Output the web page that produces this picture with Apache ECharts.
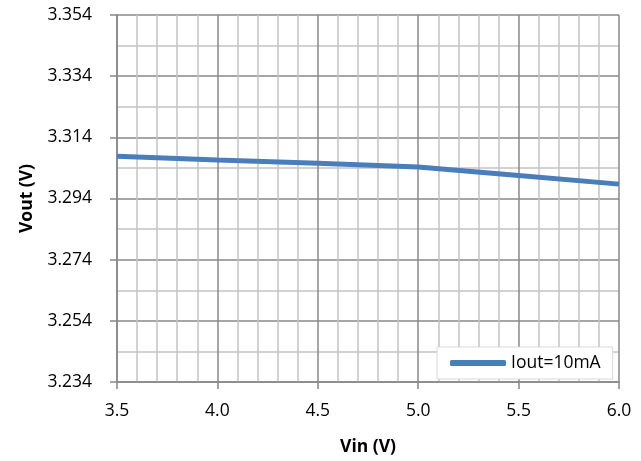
<!DOCTYPE html>
<html lang="en">
<head>
    <meta charset="UTF-8">
    <title>Vout vs Vin</title>
    <script src="https://cdn.jsdelivr.net/npm/echarts@6/dist/echarts.min.js"></script>
    <style>
        html, body { margin: 0; padding: 0; background: #fff; }
        #container { width: 641px; height: 461px; }
    </style>
</head>
<body>
<div id="container"></div>

<script>
    // data
    var vin = [3.5, 4.0, 4.5, 5.0, 5.5, 6.0];
    var vout = [3.3078, 3.3066, 3.3055, 3.3043, 3.3015, 3.2987];
    var seriesName = 'Iout=10mA';

    // y axis runs 3.234 .. 3.354 in steps of 0.020
    // plotted as millivolts above the bottom value so the ticks start at 0
    var yBase = 3.234;
    var yTop = 3.354;
    var yStepMv = 20;

    var font = '"Open Sans", "Liberation Sans", sans-serif';
    var majorGrid = '#898989';
    var minorGrid = '#c4c4c4';

    var points = vin.map(function (x, i) {
        return [x, Math.round((vout[i] - yBase) * 100000) / 100];
    });

    var myChart = echarts.init(document.getElementById('container'));
    var option = {
        animation: false,
        backgroundColor: '#fff',
        textStyle: { fontFamily: font },
        grid: {
            left: 117,
            right: 22,
            top: 15,
            bottom: 77
        },
        xAxis: {
            type: 'value',
            min: 3.5,
            max: 6.0,
            interval: 0.5,
            name: 'Vin (V)',
            nameLocation: 'middle',
            nameGap: 56,
            nameTextStyle: { fontSize: 17.5, fontWeight: 'bold', color: '#000', fontFamily: font },
            axisLine: { show: true, lineStyle: { color: '#868686', width: 1.5 } },
            axisTick: { show: true, inside: false, length: 7, lineStyle: { color: '#868686', width: 1.5 } },
            axisLabel: {
                margin: 20,
                fontSize: 17.5,
                color: '#000',
                fontFamily: font,
                formatter: function (v) { return v.toFixed(1); }
            },
            splitLine: { show: true, lineStyle: { color: majorGrid, width: 1.5 } },
            minorTick: { show: false, splitNumber: 5 },
            minorSplitLine: { show: true, lineStyle: { color: minorGrid, width: 1.5 } }
        },
        yAxis: {
            type: 'value',
            min: 0,
            max: Math.round((yTop - yBase) * 1000),
            interval: yStepMv,
            name: 'Vout (V)',
            nameLocation: 'middle',
            nameRotate: 90,
            nameGap: 80,
            nameTextStyle: { fontSize: 17.5, fontWeight: 'bold', color: '#000', fontFamily: font },
            axisLine: { show: true, lineStyle: { color: '#868686', width: 1.5 } },
            axisTick: { show: true, inside: false, length: 7, lineStyle: { color: '#868686', width: 1.5 } },
            axisLabel: {
                margin: 25,
                fontSize: 17.5,
                color: '#000',
                fontFamily: font,
                formatter: function (v) { return (yBase + v / 1000).toFixed(3); }
            },
            splitLine: { show: true, lineStyle: { color: majorGrid, width: 1.5 } },
            minorTick: { show: false, splitNumber: 2 },
            minorSplitLine: { show: true, lineStyle: { color: minorGrid, width: 1.5 } }
        },
        legend: {
            left: 437,
            top: 347,
            padding: [7, 12, 7, 13],
            backgroundColor: '#fff',
            borderColor: '#d9d9d9',
            borderWidth: 1,
            borderRadius: 0,
            itemWidth: 56,
            itemHeight: 6,
            icon: 'roundRect',
            textStyle: { fontSize: 17.5, color: '#000', fontFamily: font },
            data: [seriesName]
        },
        series: [
            {
                name: seriesName,
                type: 'line',
                data: points,
                symbol: 'none',
                smooth: false,
                lineStyle: { color: '#4a7ebb', width: 5 },
                itemStyle: { color: '#4a7ebb' }
            }
        ]
    };
    myChart.setOption(option);
</script>
</body>
</html>
